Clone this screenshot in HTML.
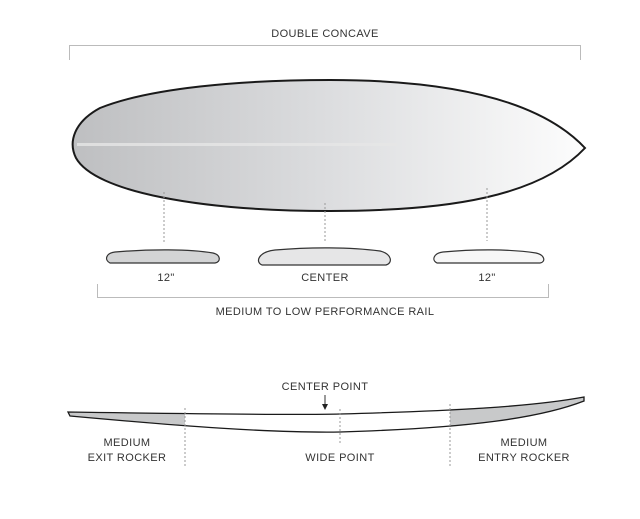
<!DOCTYPE html>
<html><head><style>
body{margin:0;background:#fff;}
svg text{font-family:"Liberation Sans",sans-serif;font-size:11px;fill:#333;text-anchor:middle;letter-spacing:0.4px}
</style></head><body>
<svg width="640" height="514" viewBox="0 0 640 514" xmlns="http://www.w3.org/2000/svg">
<defs>
<linearGradient id="g" x1="0" x2="1" y1="0" y2="0">
<stop offset="0" stop-color="#bebfc1"/><stop offset="0.5" stop-color="#dcdddf"/><stop offset="1" stop-color="#fdfdfd"/>
</linearGradient>
</defs>
<text x="325" y="37">DOUBLE CONCAVE</text>
<path d="M69.5 60 V45.5 H580.5 V60" fill="none" stroke="#bbb" stroke-width="1"/>
<path d="M330 80 C450 80 540 100 585 148 C540 196 450 211 330 211 C200 211 95 192 76 158 C68 142 74 122 100 108 C150 88 240 80 330 80 Z" fill="url(#g)" stroke="#1a1a1a" stroke-width="2"/>
<rect x="77" y="143" width="320" height="3" fill="#e6e6e6" opacity="0.8"/>
<g stroke="#999" stroke-width="1" stroke-dasharray="2,2">
<line x1="164" y1="192" x2="164" y2="243"/>
<line x1="325" y1="203" x2="325" y2="242"/>
<line x1="487" y1="188" x2="487" y2="241"/>
</g>
<path d="M110 263 C104 260 106 253 115 252 C150 249 190 249 213 253 C221 255 221 262 215 263 Z" fill="#d3d4d5" stroke="#333" stroke-width="1.2"/>
<path d="M262 265 C255 262 258 252 275 250 C310 247 350 247 380 251 C392 254 393 263 386 265 Z" fill="#e6e6e7" stroke="#333" stroke-width="1.2"/>
<path d="M437 263 C431 260 434 253 443 252 C475 249 510 249 536 253 C545 255 546 262 540 263 Z" fill="#f7f7f7" stroke="#333" stroke-width="1.2"/>
<text x="166" y="281">12"</text>
<text x="325" y="281">CENTER</text>
<text x="487" y="281">12"</text>
<path d="M97.5 284 V297.5 H548.5 V284" fill="none" stroke="#bbb" stroke-width="1"/>
<text x="325" y="315">MEDIUM TO LOW PERFORMANCE RAIL</text>
<text x="325" y="390">CENTER POINT</text>
<line x1="325" y1="395" x2="325" y2="405" stroke="#333" stroke-width="1"/>
<path d="M322 404 L328 404 L325 410 Z" fill="#222"/>
<path d="M68 412 L185 413 L185 425 C150 422 100 419 70 416 Z" fill="#c8c9ca"/>
<path d="M450 409 C510 407 555 402 584 397 L584 401 C560 410 520 420 450 427 Z" fill="#c8c9ca"/>
<path d="M68 412 C200 414 300 415 340 414 C450 411 530 407 584 397 L584 401 C540 418 470 428 340 432 C270 433 180 426 70 416 Z" fill="none" stroke="#1a1a1a" stroke-width="1.3"/>
<g stroke="#999" stroke-width="1" stroke-dasharray="2,2">
<line x1="185" y1="408" x2="185" y2="466"/>
<line x1="340" y1="409" x2="340" y2="445"/>
<line x1="450" y1="404" x2="450" y2="466"/>
</g>
<text x="127" y="446">MEDIUM</text>
<text x="127" y="461">EXIT ROCKER</text>
<text x="340" y="461">WIDE POINT</text>
<text x="524" y="446">MEDIUM</text>
<text x="524" y="461">ENTRY ROCKER</text>
</svg>
</body></html>
